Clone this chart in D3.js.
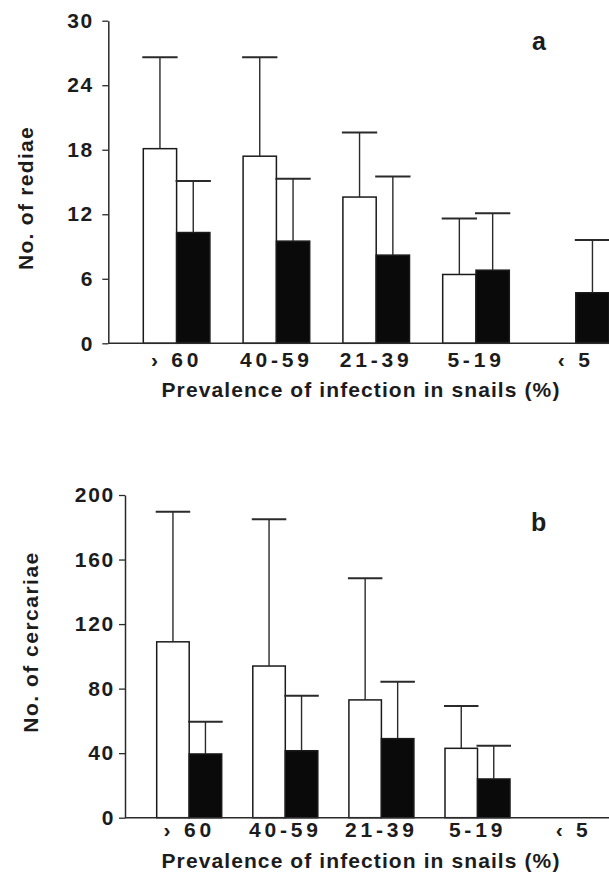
<!DOCTYPE html>
<html>
<head>
<meta charset="utf-8">
<script src="https://cdn.jsdelivr.net/npm/d3@7"></script>
<style>
  html, body { margin: 0; padding: 0; background: #fff; }
  svg { display: block; }
  text { font-family: "Liberation Sans", Arial, Helvetica, sans-serif; font-weight: bold; fill: #1c1c1c; }
</style>
</head>
<body>
<svg id="chart" width="609" height="878"></svg>
<script>
// prevalence classes on the x axis
const categories = ["› 60", "40-59", "21-39", "5-19", "‹ 5"];

// panel a: rediae per snail, mean and SD (open and filled bars)
const rediaeOpen = [18.1, 17.4, 13.6, 6.4, 0];
const rediaeOpenSD = [8.5, 9.2, 6.0, 5.2, 0];
const rediaeFilled = [10.3, 9.5, 8.2, 6.8, 4.7];
const rediaeFilledSD = [4.8, 5.8, 7.3, 5.3, 4.9];
const rediaeTicks = [0, 6, 12, 18, 24, 30];

// panel b: cercariae per snail
const cercariaeOpen = [109, 94, 73, 43, 0];
const cercariaeOpenSD = [80.6, 91, 75.4, 26.2, 0];
const cercariaeFilled = [39.5, 41.5, 49, 24, 0];
const cercariaeFilledSD = [20, 34.1, 35.3, 20.6, 0];
const cercariaeTicks = [0, 40, 80, 120, 160, 200];

const xTitle = "Prevalence of infection in snails (%)";

const svg = d3.select("#chart");
const W = 609;
const FS = "21px";

function drawPanel(p) {
  const g = svg.append("g");

  //Scales
  const y = d3.scaleLinear().domain([0, p.max]).range([p.y0, p.y1]);
  const pi = 1 - (2 * p.barW) / p.step;
  const x = d3
    .scaleBand()
    .domain(categories)
    .range([p.x0, p.x0 + p.step * (categories.length - pi)])
    .paddingInner(pi)
    .paddingOuter(0);
  const sub = d3.scaleBand().domain(["open", "filled"]).range([0, x.bandwidth()]);

  const rows = [];
  categories.forEach((c, i) => {
    rows.push({ cat: c, key: "open", v: p.open[i], sd: p.openSD[i] });
    rows.push({ cat: c, key: "filled", v: p.filled[i], sd: p.filledSD[i] });
  });

  //Bars
  g.selectAll("rect.bar")
    .data(rows.filter((d) => d.v > 0))
    .join("rect")
    .attr("class", "bar")
    .attr("x", (d) => x(d.cat) + sub(d.key))
    .attr("width", sub.bandwidth())
    .attr("y", (d) => y(d.v))
    .attr("height", (d) => y(0) - y(d.v))
    .attr("fill", (d) => (d.key === "open" ? "#fff" : "#0a0a0a"))
    .attr("stroke", "#1a1a1a")
    .attr("stroke-width", 1.5);

  //Error bars (upper SD only)
  const err = g.selectAll("g.err")
    .data(rows.filter((d) => d.sd > 0))
    .join("g")
    .attr("class", "err")
    .attr("stroke", "#2a2a2a")
    .attr("stroke-width", 1.4);
  err.append("line")
    .attr("x1", (d) => x(d.cat) + sub(d.key) + sub.bandwidth() / 2)
    .attr("x2", (d) => x(d.cat) + sub(d.key) + sub.bandwidth() / 2)
    .attr("y1", (d) => y(d.v))
    .attr("y2", (d) => y(d.v + d.sd));
  err.append("line")
    .attr("x1", (d) => x(d.cat) + sub(d.key) - 1)
    .attr("x2", (d) => x(d.cat) + sub(d.key) + sub.bandwidth() + 1)
    .attr("y1", (d) => y(d.v + d.sd))
    .attr("y2", (d) => y(d.v + d.sd))
    .attr("stroke-width", 2);

  //Y axis
  const ya = g.append("g")
    .attr("transform", "translate(" + p.axisX + ",0)")
    .call(d3.axisLeft(y).tickValues(p.ticks).tickSize(6).tickSizeOuter(0).tickPadding(p.tickPad));
  ya.select(".domain").attr("stroke", "#2a2a2a").attr("stroke-width", 1.5);
  ya.selectAll(".tick line").attr("stroke", "#2a2a2a").attr("stroke-width", 1.3);
  ya.selectAll(".tick text")
    .style("font-size", FS)
    .style("letter-spacing", "1.8px")
    .attr("fill", "#1c1c1c");

  //X baseline and labels
  g.append("line")
    .attr("x1", p.axisX)
    .attr("x2", W)
    .attr("y1", y(0))
    .attr("y2", y(0))
    .attr("stroke", "#2a2a2a")
    .attr("stroke-width", 1.6);

  const xa = g.append("g")
    .attr("transform", "translate(0," + y(0) + ")")
    .call(d3.axisBottom(x).tickSize(0).tickPadding(p.xPad));
  xa.select(".domain").remove();
  xa.selectAll(".tick text")
    .style("font-size", FS)
    .style("letter-spacing", "3.8px")
    .attr("fill", "#1c1c1c");

  //Axis titles
  g.append("text")
    .attr("x", 361)
    .attr("y", p.titleY)
    .attr("text-anchor", "middle")
    .style("font-size", FS)
    .style("letter-spacing", "1.1px")
    .text(xTitle);

  g.append("text")
    .attr("transform", "translate(" + p.yTitleX + "," + p.yTitleY + ") rotate(-90)")
    .attr("text-anchor", "middle")
    .style("font-size", FS)
    .style("letter-spacing", p.yTitleLs)
    .text(p.yTitle);

  //Panel letter
  g.append("text")
    .attr("x", p.letterX)
    .attr("y", p.letterY)
    .style("font-size", "25px")
    .text(p.letter);
}

drawPanel({
  open: rediaeOpen, openSD: rediaeOpenSD,
  filled: rediaeFilled, filledSD: rediaeFilledSD,
  ticks: rediaeTicks, max: 30,
  y0: 343.3, y1: 20.7,
  axisX: 108.3, x0: 143.3, step: 99.8, barW: 33.3,
  tickPad: 8.2, xPad: 8.8,
  titleY: 397, yTitle: "No. of rediae", yTitleX: 33, yTitleY: 198, yTitleLs: "1.3px",
  letter: "a", letterX: 532, letterY: 50
});

drawPanel({
  open: cercariaeOpen, openSD: cercariaeOpenSD,
  filled: cercariaeFilled, filledSD: cercariaeFilledSD,
  ticks: cercariaeTicks, max: 200,
  y0: 817.7, y1: 495,
  axisX: 125, x0: 156.7, step: 96.1, barW: 32.5,
  tickPad: 3.9, xPad: 4.4,
  titleY: 868, yTitle: "No. of cercariae", yTitleX: 38, yTitleY: 642, yTitleLs: "1.5px",
  letter: "b", letterX: 531, letterY: 531
});
</script>
</body>
</html>
